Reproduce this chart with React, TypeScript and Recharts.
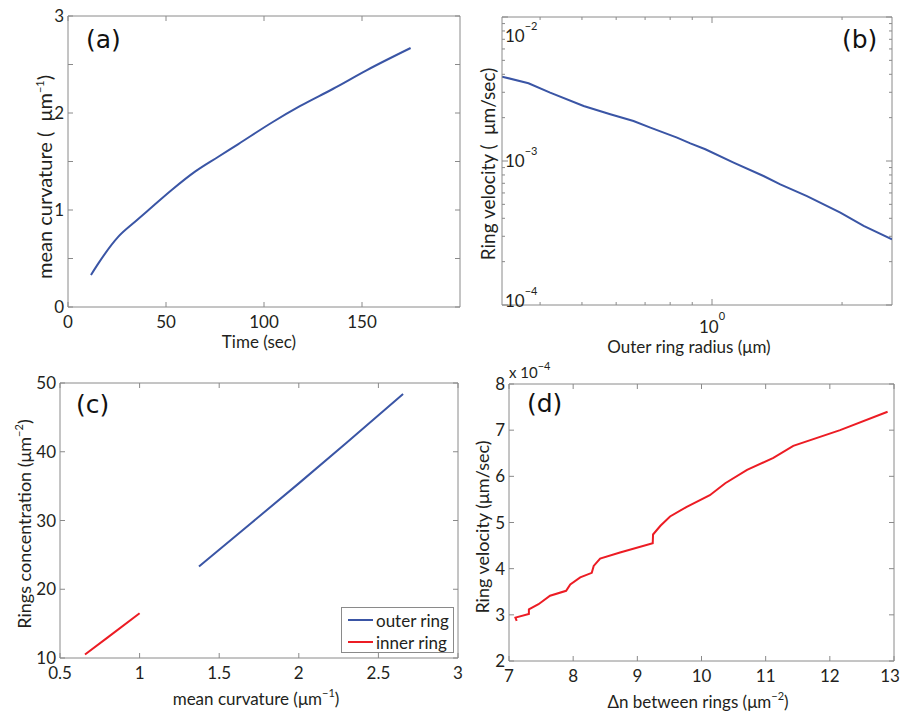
import React from "react";
import { LineChart, Line, XAxis, YAxis, ReferenceLine, Legend } from "recharts";

// (a) mean curvature vs time
const timeSec = [11.7, 15.5, 25.7, 34.2, 42.7, 52.9, 64.8, 76.7, 86.9, 104.7, 118.3, 135.3, 152.3, 174.8];
const curvatureA = [0.33, 0.45, 0.725, 0.879, 1.028, 1.206, 1.395, 1.549, 1.68, 1.91, 2.07, 2.25, 2.44, 2.67];

// (b) ring velocity vs outer ring radius (log-log)
const radiusB = [0.3265, 0.376, 0.422, 0.5045, 0.5815, 0.658, 0.72, 0.83, 0.891, 0.965, 1.122, 1.316, 1.439, 1.659, 1.982, 2.244, 2.61];
const velocityB = [3.855e-3, 3.464e-3, 2.985e-3, 2.41e-3, 2.11e-3, 1.896e-3, 1.706e-3, 1.454e-3, 1.327e-3, 1.206e-3, 9.75e-4, 7.87e-4, 6.89e-4, 5.71e-4, 4.38e-4, 3.54e-4, 2.86e-4];

// (c) rings concentration vs mean curvature
const seriesC = ["outer ring", "inner ring"];
const outerCurv = [1.373, 1.7, 2.0, 2.3, 2.655];
const outerConc = [23.3, 29.6, 35.4, 41.3, 48.4];
const innerCurv = [0.657, 0.8, 1.0];
const innerConc = [10.5, 13.0, 16.5];

// (d) ring velocity vs delta n
const deltaN = [7.12, 7.1, 7.31, 7.31, 7.46, 7.64, 7.89, 7.955, 8.11, 8.29, 8.32, 8.42, 8.73, 9.24, 9.245, 9.36, 9.51, 9.77, 10.13, 10.37, 10.71, 11.12, 11.43, 12.16, 12.9];
const velocityD = [2.87e-4, 2.94e-4, 3.02e-4, 3.12e-4, 3.23e-4, 3.415e-4, 3.52e-4, 3.66e-4, 3.81e-4, 3.91e-4, 4.06e-4, 4.22e-4, 4.35e-4, 4.55e-4, 4.74e-4, 4.93e-4, 5.13e-4, 5.34e-4, 5.59e-4, 5.85e-4, 6.14e-4, 6.4e-4, 6.66e-4, 7.0e-4, 7.4e-4];

const ticksAx = [0, 50, 100, 150];
const ticksAy = [0, 0.5, 1, 1.5, 2, 2.5, 3];
const ticksBx = [0.4, 0.5, 0.6, 0.7, 0.8, 0.9, 1, 2];
const ticksBy = [1e-4, 2e-4, 3e-4, 4e-4, 5e-4, 6e-4, 7e-4, 8e-4, 9e-4, 1e-3, 2e-3, 3e-3, 4e-3, 5e-3, 6e-3, 7e-3, 8e-3, 9e-3, 1e-2];
const ticksCx = [0.5, 1, 1.5, 2, 2.5, 3];
const ticksCy = [10, 20, 30, 40, 50];
const ticksDx = [7, 8, 9, 10, 11, 12, 13];
const ticksDy = [2e-4, 3e-4, 4e-4, 5e-4, 6e-4, 7e-4, 8e-4];

const zip = (xs: number[], ys: number[]) => xs.map((x, i) => ({ x, y: ys[i] }));

const BLUE = "#3a55a5";
const RED = "#ec1c24";
const AXIS = "#8a8a8a";
const INK = "#231f20";
const FONT = "Lato, 'Open Sans', sans-serif";
const LETTER = "'DejaVu Sans', Verdana, sans-serif";

const isDecade = (v: number) => Math.abs(Math.log10(v) - Math.round(Math.log10(v))) < 1e-6;

// bottom axis tick: inward tick at bottom + mirrored one at top
const xTick =
  (span: number, label: (v: number) => React.ReactNode, maxLabelX = 9999) =>
  (props: any) => {
    const { x, y, payload } = props;
    const t = label(payload.value);
    return (
      <g>
        <line x1={x} x2={x} y1={y} y2={y - 5} stroke={AXIS} />
        <line x1={x} x2={x} y1={y - span} y2={y - span + 5} stroke={AXIS} />
        {t !== null && (
          <text x={Math.min(x, maxLabelX)} y={y + 21} textAnchor="middle" fill={INK} fontSize={17} fontFamily={FONT}>
            {t}
          </text>
        )}
      </g>
    );
  };

// left axis tick: inward tick at left + mirrored one at right
const yTick = (span: number, label: (v: number) => React.ReactNode) => (props: any) => {
  const { x, y, payload } = props;
  const t = label(payload.value);
  return (
    <g>
      <line x1={x} x2={x + 5} y1={y} y2={y} stroke={AXIS} />
      <line x1={x + span} x2={x + span - 5} y1={y} y2={y} stroke={AXIS} />
      {t !== null && (
        <text x={x - 4} y={y + 6} textAnchor="end" fill={INK} fontSize={17} fontFamily={FONT}>
          {t}
        </text>
      )}
    </g>
  );
};

// log y tick of panel (b): labels sit inside the box
const yTickLog = (span: number, top: number, bottom: number) => (props: any) => {
  const { x, y, payload } = props;
  const v = payload.value;
  const major = isDecade(v);
  const l = major ? 6 : 3;
  const cy = Math.min(Math.max(y, top + 19), bottom - 4);
  return (
    <g>
      <line x1={x} x2={x + l} y1={y} y2={y} stroke={AXIS} />
      <line x1={x + span} x2={x + span - l} y1={y} y2={y} stroke={AXIS} />
      {major && (
        <text x={x + 3} y={cy + 6} fill={INK} fontSize={17} fontFamily={FONT}>
          <tspan>10</tspan>
          <tspan dy={-12} fontSize={11}>
            {"\u2212" + Math.round(-Math.log10(v))}
          </tspan>
        </text>
      )}
    </g>
  );
};

const xTickLog = (span: number) => (props: any) => {
  const { x, y, payload } = props;
  const v = payload.value;
  const major = isDecade(v);
  const l = major ? 6 : 3;
  return (
    <g>
      <line x1={x} x2={x} y1={y} y2={y - l} stroke={AXIS} />
      <line x1={x} x2={x} y1={y - span} y2={y - span + l} stroke={AXIS} />
      {major && (
        <text x={x} y={y + 28} textAnchor="middle" fill={INK} fontSize={17} fontFamily={FONT}>
          <tspan>10</tspan>
          <tspan dy={-13} fontSize={11}>
            {String(Math.round(Math.log10(v)))}
          </tspan>
        </text>
      )}
    </g>
  );
};

const Sup = ({ children }: { children: React.ReactNode }) => (
  <span style={{ fontSize: 11, position: "relative", top: -8 }}>{children}</span>
);

const Title = ({ x, y, rotate, size = 17, children }: { x: number; y: number; rotate?: boolean; size?: number; children: React.ReactNode }) => (
  <div
    style={{
      position: "absolute",
      left: x,
      top: y,
      transform: `translate(-50%, -50%)${rotate ? " rotate(-90deg)" : ""}`,
      whiteSpace: "nowrap",
      fontSize: size,
      lineHeight: 1,
      fontFamily: FONT,
      color: INK,
    }}
  >
    {children}
  </div>
);

const PanelTag = ({ x, y, text }: { x: number; y: number; text: string }) => (
  <div
    style={{
      position: "absolute",
      left: x,
      top: y,
      transform: "translateY(-50%)",
      fontSize: 25,
      lineHeight: 1,
      fontFamily: LETTER,
      color: "#111",
      whiteSpace: "nowrap",
    }}
  >
    {text}
  </div>
);

const legendBox = (props: any) => {
  const items = [...(props.payload || [])].sort((a: any, b: any) => seriesC.indexOf(a.value) - seriesC.indexOf(b.value));
  return (
    <div
      style={{
        width: 111,
        height: 44,
        border: `1px solid ${AXIS}`,
        background: "#fff",
        position: "relative",
        fontFamily: FONT,
        fontSize: 17,
        color: INK,
      }}
    >
      {items.map((it: any, i: number) => (
        <div key={i} style={{ position: "absolute", left: 6, top: 2 + i * 22, height: 20, display: "flex", alignItems: "center" }}>
          <div style={{ width: 25, height: 2, background: it.color, marginRight: 3 }} />
          <span style={{ lineHeight: 1 }}>{it.value}</span>
        </div>
      ))}
    </div>
  );
};

const axisLine = { stroke: AXIS };

export default function App() {
  return (
    <div style={{ position: "absolute", left: 0, top: 0, width: 901, height: 714, background: "#fff", overflow: "hidden" }}>
      {/* (a) */}
      <div style={{ position: "absolute", left: 0, top: 0 }}>
        <LineChart width={475} height={355} margin={{ top: 16, right: 15, bottom: 8, left: 0 }}>
          <XAxis type="number" dataKey="x" domain={[0, 200]} ticks={ticksAx} interval={0} height={40} tickSize={0} tickMargin={0} tickLine={false} axisLine={axisLine} tick={xTick(291, (v) => String(v))} />
          <YAxis type="number" dataKey="y" domain={[0, 3]} ticks={ticksAy} interval={0} width={68} tickSize={0} tickMargin={0} tickLine={false} axisLine={axisLine} tick={yTick(392, (v) => (Number.isInteger(v) ? String(v) : null))} />
          <ReferenceLine y={3} stroke={AXIS} />
          <ReferenceLine x={200} stroke={AXIS} />
          <Line data={zip(timeSec, curvatureA)} dataKey="y" type="monotone" stroke={BLUE} strokeWidth={2} dot={false} isAnimationActive={false} />
        </LineChart>
      </div>

      {/* (b) */}
      <div style={{ position: "absolute", left: 470, top: 0 }}>
        <LineChart width={431} height={355} margin={{ top: 17, right: 9, bottom: 5, left: 0 }}>
          <XAxis type="number" dataKey="x" scale="log" domain={[0.3265, 2.61]} allowDataOverflow ticks={ticksBx} interval={0} height={45} tickSize={0} tickMargin={0} tickLine={false} axisLine={axisLine} tick={xTickLog(288)} />
          <YAxis type="number" dataKey="y" scale="log" domain={[1e-4, 1e-2]} allowDataOverflow ticks={ticksBy} interval={0} width={32} tickSize={0} tickMargin={0} tickLine={false} axisLine={axisLine} tick={yTickLog(390, 17, 305)} />
          <ReferenceLine y={1e-2} stroke={AXIS} />
          <ReferenceLine x={2.61} stroke={AXIS} />
          <Line data={zip(radiusB, velocityB)} dataKey="y" type="linear" stroke={BLUE} strokeWidth={2} dot={false} isAnimationActive={false} />
        </LineChart>
      </div>

      {/* (c) */}
      <div style={{ position: "absolute", left: 0, top: 340 }}>
        <LineChart width={470} height={374} margin={{ top: 43, right: 12, bottom: 11, left: 0 }}>
          <XAxis type="number" dataKey="x" domain={[0.5, 3]} ticks={ticksCx} interval={0} height={45} tickSize={0} tickMargin={0} tickLine={false} axisLine={axisLine} tick={xTick(275, (v) => String(v))} />
          <YAxis type="number" dataKey="y" domain={[10, 50]} ticks={ticksCy} interval={0} width={60} tickSize={0} tickMargin={0} tickLine={false} axisLine={axisLine} tick={yTick(398, (v) => String(v))} />
          <ReferenceLine y={50} stroke={AXIS} />
          <ReferenceLine x={3} stroke={AXIS} />
          <Line name={seriesC[0]} data={zip(outerCurv, outerConc)} dataKey="y" type="linear" stroke={BLUE} strokeWidth={2} dot={false} isAnimationActive={false} />
          <Line name={seriesC[1]} data={zip(innerCurv, innerConc)} dataKey="y" type="linear" stroke={RED} strokeWidth={2} dot={false} isAnimationActive={false} />
          <Legend layout="vertical" align="center" verticalAlign="middle" content={legendBox} wrapperStyle={{ position: "absolute", left: 341, top: 267, width: 113, height: 46 }} />
        </LineChart>
      </div>

      {/* (d) */}
      <div style={{ position: "absolute", left: 470, top: 340 }}>
        <LineChart width={431} height={374} margin={{ top: 44, right: 7, bottom: 8, left: 0 }}>
          <XAxis type="number" dataKey="x" domain={[7, 13]} ticks={ticksDx} interval={0} height={45} tickSize={0} tickMargin={0} tickLine={false} axisLine={axisLine} tick={xTick(277, (v) => String(v), 420)} />
          <YAxis type="number" dataKey="y" domain={[2e-4, 8e-4]} ticks={ticksDy} interval={0} width={39} tickSize={0} tickMargin={0} tickLine={false} axisLine={axisLine} tick={yTick(385, (v) => String(Math.round(v * 1e4)))} />
          <ReferenceLine y={8e-4} stroke={AXIS} />
          <ReferenceLine x={13} stroke={AXIS} />
          <Line data={zip(deltaN, velocityD)} dataKey="y" type="linear" stroke={RED} strokeWidth={2} dot={false} isAnimationActive={false} />
        </LineChart>
      </div>

      {/* titles and tags */}
      <Title x={259} y={341}>Time (sec)</Title>
      <Title x={44} y={177} rotate size={20}>
        mean curvature (&nbsp;&nbsp;μm<Sup>−1</Sup>)
      </Title>
      <PanelTag x={86} y={39} text="(a)" />

      <Title x={689} y={346}>Outer ring radius (μm)</Title>
      <Title x={487} y={164} rotate size={19}>
        Ring velocity (&nbsp;&nbsp;μm/sec)
      </Title>
      <PanelTag x={842} y={39} text="(b)" />

      <Title x={256} y={698}>
        mean curvature (μm<Sup>−1</Sup>)
      </Title>
      <Title x={24} y={524} rotate size={18}>
        Rings concentration (μm<Sup>−2</Sup>)
      </Title>
      <PanelTag x={76} y={404} text="(c)" />

      <div style={{ position: "absolute", left: 509, top: 365, fontSize: 15, lineHeight: 1, fontFamily: FONT, color: INK, whiteSpace: "nowrap" }}>
        x 10<Sup>−4</Sup>
      </div>
      <Title x={698} y={701}>
        Δn between rings (μm<Sup>−2</Sup>)
      </Title>
      <Title x={482} y={527} rotate size={18}>
        Ring velocity (μm/sec)
      </Title>
      <PanelTag x={527} y={403} text="(d)" />
    </div>
  );
}
